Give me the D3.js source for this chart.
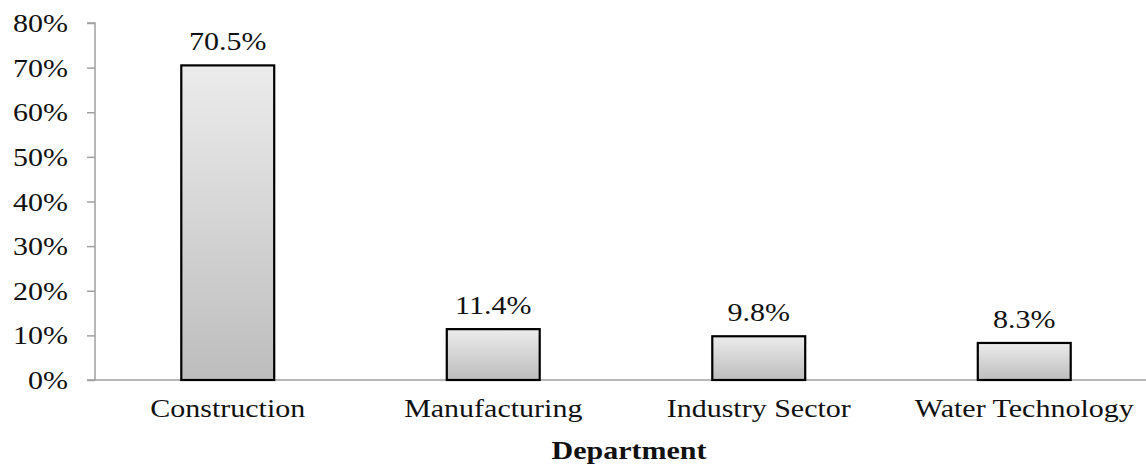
<!DOCTYPE html>
<html>
<head>
<meta charset="utf-8">
<script src="https://cdn.jsdelivr.net/npm/d3@7"></script>
<style>
  html, body { margin: 0; padding: 0; background: #fff; }
  svg { display: block; }
  svg text { font-family: "Liberation Serif", "Times New Roman", serif !important; fill: #111; }
</style>
</head>
<body>
<svg id="chart" width="1146" height="466"></svg>
<script>
// Share of respondents by department
const departments = ["Construction", "Manufacturing", "Industry Sector", "Water Technology"];
const shares = [70.5, 11.4, 9.8, 8.3];
const yTicks = [0, 10, 20, 30, 40, 50, 60, 70, 80];
const axisTitle = "Department";

const W = 1146, H = 466;
const svg = d3.select("#chart");
const stretch = 1.2;    // wide serif lettering
const fontSize = 25;
const serif = "'Liberation Serif', 'Times New Roman', serif";

const x = d3.scaleBand()
  .domain(departments)
  .range([95, 1157])
  .paddingInner(0.65)
  .paddingOuter(0.325);

const y = d3.scaleLinear().domain([0, 80]).range([380, 23]);

// bar fill: light at the top, darker grey at the base
const grad = svg.append("defs").append("linearGradient")
  .attr("id", "barFill").attr("x1", 0).attr("y1", 0).attr("x2", 0).attr("y2", 1);
grad.append("stop").attr("offset", "0%").attr("stop-color", "#ececec");
grad.append("stop").attr("offset", "100%").attr("stop-color", "#bdbdbd");

// y axis
const yAxis = svg.append("g")
  .attr("transform", "translate(95,0)")
  .call(d3.axisLeft(y).tickValues(yTicks).tickSize(8).tickPadding(0).tickFormat(d => d + "%"));
yAxis.attr("font-family", serif);
yAxis.select(".domain").attr("stroke", "#a0a0a0").attr("stroke-width", 1.5).attr("d", `M-8,${y(80)}H0V${y(0)}`);
yAxis.selectAll(".tick line").attr("stroke", "#a0a0a0").attr("stroke-width", 1.5);
yAxis.selectAll(".tick text")
  .attr("x", 0).attr("dy", null)
  .attr("text-anchor", "end")
  .style("font-size", fontSize + "px")
  .style("font-family", serif)
  .attr("fill", "#111")
  .attr("transform", `translate(-27,8.5) scale(${stretch},1)`);

// x axis baseline
svg.append("line")
  .attr("x1", 87).attr("x2", W).attr("y1", y(0)).attr("y2", y(0))
  .attr("stroke", "#a0a0a0").attr("stroke-width", 1.5);

// bars
svg.append("g").selectAll("rect")
  .data(departments)
  .join("rect")
  .attr("x", d => x(d))
  .attr("width", x.bandwidth())
  .attr("y", (d, i) => y(shares[i]))
  .attr("height", (d, i) => y(0) - y(shares[i]))
  .attr("fill", "url(#barFill)")
  .attr("stroke", "#000")
  .attr("stroke-width", 2.2);

// value labels
svg.append("g").selectAll("text")
  .data(departments)
  .join("text")
  .attr("text-anchor", "middle")
  .style("font-size", fontSize + "px")
  .style("font-family", serif)
  .attr("transform", (d, i) => `translate(${x(d) + x.bandwidth() / 2},${y(shares[i]) - 15}) scale(${stretch},1)`)
  .text((d, i) => shares[i].toFixed(1) + "%");

// category labels
svg.append("g").selectAll("text")
  .data(departments)
  .join("text")
  .attr("text-anchor", "middle")
  .style("font-size", fontSize + "px")
  .style("font-family", serif)
  .attr("transform", d => `translate(${x(d) + x.bandwidth() / 2},417) scale(${stretch},1)`)
  .text(d => d);

// axis title
svg.append("text")
  .attr("text-anchor", "middle")
  .style("font-size", fontSize + "px")
  .style("font-family", serif)
  .style("font-weight", "bold")
  .attr("transform", `translate(629,459) scale(${stretch},1)`)
  .text(axisTitle);
</script>
</body>
</html>
